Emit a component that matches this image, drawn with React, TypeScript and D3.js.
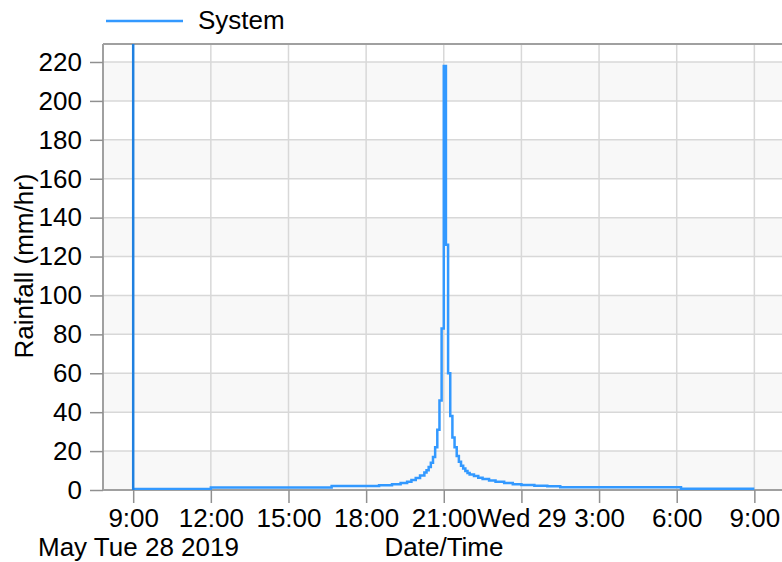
import React, { useEffect, useRef } from "react";
import * as d3 from "d3";

// rainfall intensity, step series (value holds until next time)
const times = [
  "2019-05-28 09:00", "2019-05-28 12:00", "2019-05-28 16:40", "2019-05-28 18:30",
  "2019-05-28 19:00", "2019-05-28 19:20", "2019-05-28 19:35", "2019-05-28 19:45",
  "2019-05-28 19:55", "2019-05-28 20:05", "2019-05-28 20:15", "2019-05-28 20:20",
  "2019-05-28 20:25", "2019-05-28 20:30", "2019-05-28 20:35", "2019-05-28 20:40",
  "2019-05-28 20:45", "2019-05-28 20:50", "2019-05-28 20:55", "2019-05-28 21:00",
  "2019-05-28 21:05", "2019-05-28 21:10", "2019-05-28 21:15", "2019-05-28 21:20",
  "2019-05-28 21:25", "2019-05-28 21:30", "2019-05-28 21:35", "2019-05-28 21:40",
  "2019-05-28 21:45", "2019-05-28 21:50", "2019-05-28 21:55", "2019-05-28 22:00",
  "2019-05-28 22:10", "2019-05-28 22:20", "2019-05-28 22:30", "2019-05-28 22:45",
  "2019-05-28 23:00", "2019-05-28 23:20", "2019-05-28 23:40", "2019-05-29 00:00",
  "2019-05-29 00:30", "2019-05-29 01:00", "2019-05-29 01:30", "2019-05-29 06:10",
  "2019-05-29 09:00",
];
const rainfall = [
  0.5, 1.3, 2.0, 2.4,
  3.0, 3.6, 4.3, 5.2,
  6.2, 7.4, 9.0, 10.2,
  11.8, 14, 17, 22,
  31, 46, 83, 218,
  126, 60, 38, 27,
  22, 17.5, 14.5, 12.5,
  11, 9.8, 8.8, 8.0,
  7.2, 6.3, 5.6, 4.9,
  4.2, 3.6, 3.0, 2.6,
  2.2, 1.9, 1.4, 0.6,
  0.6,
];

const markerTime = "2019-05-28 09:00";
const tickTimes = [
  "2019-05-28 09:00", "2019-05-28 12:00", "2019-05-28 15:00", "2019-05-28 18:00",
  "2019-05-28 21:00", "2019-05-29 00:00", "2019-05-29 03:00", "2019-05-29 06:00",
  "2019-05-29 09:00",
];
const tickLabels = ["9:00", "12:00", "15:00", "18:00", "21:00", "Wed 29", "3:00", "6:00", "9:00"];
const yTicks = [0, 20, 40, 60, 80, 100, 120, 140, 160, 180, 200, 220];

const W = 782;
const H = 562;
const FONT = "'Liberation Sans', Arial, sans-serif";
const FS = "26px";

export default function App() {
  const svgRef = useRef<SVGSVGElement>(null);

  useEffect(() => {
    const svg = d3.select(svgRef.current);
    svg.selectAll("*").remove();

    const parse = d3.timeParse("%Y-%m-%d %H:%M");
    const data = times.map((t, i) => ({ t: parse(t) as Date, v: rainfall[i] }));

    const left = 103, right = 788, top = 44, bottom = 490;

    const x = d3
      .scaleTime()
      .domain([parse("2019-05-28 07:50") as Date, parse("2019-05-29 10:18") as Date])
      .range([left, right]);
    const y = d3.scaleLinear().domain([0, 229.25]).range([bottom, top]);

    svg.append("defs").append("clipPath").attr("id", "plotclip")
      .append("rect").attr("x", left).attr("y", top).attr("width", right - left).attr("height", bottom - top);

    // alternating bands
    svg.append("rect").attr("x", left).attr("y", top).attr("width", right - left)
      .attr("height", bottom - top).attr("fill", "#fff");
    svg.append("g").selectAll("rect")
      .data(yTicks.slice(0, -1))
      .enter().append("rect")
      .attr("x", left)
      .attr("y", (d) => y(d + 20))
      .attr("width", right - left)
      .attr("height", (d) => y(d) - y(d + 20))
      .attr("fill", (d, i) => (i % 2 === 0 ? "#f8f8f8" : "#fff"));

    // grid
    const grid = svg.append("g").attr("stroke", "#d8d8d8").attr("stroke-width", 1.5);
    grid.selectAll("line.h").data(yTicks.slice(1)).enter().append("line")
      .attr("x1", left).attr("x2", right).attr("y1", (d) => y(d)).attr("y2", (d) => y(d));
    grid.selectAll("line.v").data(tickTimes).enter().append("line")
      .attr("x1", (d) => x(parse(d) as Date)).attr("x2", (d) => x(parse(d) as Date))
      .attr("y1", top).attr("y2", bottom);

    // frame
    svg.append("line").attr("x1", left).attr("x2", right).attr("y1", top).attr("y2", top)
      .attr("stroke", "#a0a0a0").attr("stroke-width", 2);
    svg.append("line").attr("x1", left).attr("x2", left).attr("y1", top).attr("y2", bottom)
      .attr("stroke", "#a0a0a0").attr("stroke-width", 2);
    svg.append("line").attr("x1", left).attr("x2", right).attr("y1", bottom).attr("y2", bottom)
      .attr("stroke", "#a0a0a0").attr("stroke-width", 2);

    // axes
    const xAxisG = svg.append("g")
      .attr("transform", `translate(0,${bottom})`)
      .call(
        d3.axisBottom(x)
          .tickValues(tickTimes.map((d) => parse(d) as Date))
          .tickFormat((d, i) => tickLabels[i])
          .tickSize(13)
          .tickPadding(6)
      );
    xAxisG.select("path").remove();
    xAxisG.selectAll("line").attr("stroke", "#909090").attr("stroke-width", 1.5);
    xAxisG.selectAll("text").attr("fill", "#000").style("font-size", FS).style("font-family", FONT);

    const yAxisG = svg.append("g")
      .attr("transform", `translate(${left},0)`)
      .call(d3.axisLeft(y).tickValues(yTicks).tickSize(13).tickPadding(8));
    yAxisG.select("path").remove();
    yAxisG.selectAll("line").attr("stroke", "#909090").attr("stroke-width", 1.5);
    yAxisG.selectAll("text").attr("fill", "#000").style("font-size", FS).style("font-family", FONT);

    // axis titles
    svg.append("text")
      .attr("transform", "rotate(-90)")
      .attr("x", -266).attr("y", 33)
      .attr("text-anchor", "middle")
      .style("font-size", FS).style("font-family", FONT).attr("fill", "#000")
      .text("Rainfall (mm/hr)");
    svg.append("text")
      .attr("x", 38).attr("y", 556)
      .style("font-size", FS).style("font-family", FONT).attr("fill", "#000")
      .text("May Tue 28 2019");
    svg.append("text")
      .attr("x", 444).attr("y", 556)
      .attr("text-anchor", "middle")
      .style("font-size", FS).style("font-family", FONT).attr("fill", "#000")
      .text("Date/Time");

    // series
    const line = d3.line<{ t: Date; v: number }>()
      .x((d) => x(d.t))
      .y((d) => y(d.v))
      .curve(d3.curveStepAfter);
    const plot = svg.append("g").attr("clip-path", "url(#plotclip)");
    plot.append("path")
      .datum(data)
      .attr("d", line)
      .attr("fill", "none")
      .attr("stroke", "#3399ff")
      .attr("stroke-width", 2.5);

    // time marker
    const mx = x(parse(markerTime) as Date);
    plot.append("line")
      .attr("x1", mx).attr("x2", mx).attr("y1", top).attr("y2", bottom)
      .attr("stroke", "#1f80e0").attr("stroke-width", 2.5);

    // legend
    svg.append("line").attr("x1", 106).attr("x2", 183).attr("y1", 21).attr("y2", 21)
      .attr("stroke", "#3399ff").attr("stroke-width", 2.5);
    svg.append("text").attr("x", 198).attr("y", 29)
      .style("font-size", FS).style("font-family", FONT).attr("fill", "#000")
      .text("System");
  }, []);

  return (
    <div style={{ position: "absolute", left: 0, top: 0 }}>
      <svg ref={svgRef} width={W} height={H} style={{ display: "block", background: "#fff" }} />
    </div>
  );
}
